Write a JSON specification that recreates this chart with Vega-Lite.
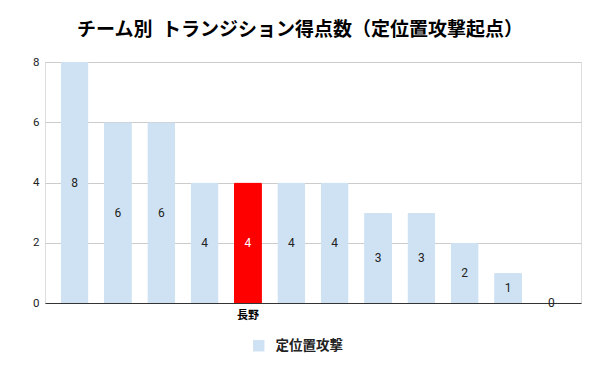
{
  "$schema": "https://vega.github.io/schema/vega-lite/v6.json",
  "autosize": {"type": "none"},
  "width": 536,
  "height": 241,
  "padding": {"left": 45, "top": 62, "right": 19, "bottom": 68},
  "background": "white",
  "title": {
    "text": "チーム別\u2002トランジション得点数（定位置攻撃起点）",
    "font": "Noto Sans CJK JP",
    "fontSize": 19,
    "fontWeight": "bold",
    "color": "#000000",
    "anchor": "middle",
    "dx": -13,
    "offset": 16
  },
  "data": {
    "values": [
      {"team": "チーム1", "score": 8, "series": "定位置攻撃"},
      {"team": "チーム2", "score": 6, "series": "定位置攻撃"},
      {"team": "チーム3", "score": 6, "series": "定位置攻撃"},
      {"team": "チーム4", "score": 4, "series": "定位置攻撃"},
      {"team": "長野", "score": 4, "series": "定位置攻撃"},
      {"team": "チーム6", "score": 4, "series": "定位置攻撃"},
      {"team": "チーム7", "score": 4, "series": "定位置攻撃"},
      {"team": "チーム8", "score": 3, "series": "定位置攻撃"},
      {"team": "チーム9", "score": 3, "series": "定位置攻撃"},
      {"team": "チーム10", "score": 2, "series": "定位置攻撃"},
      {"team": "チーム11", "score": 1, "series": "定位置攻撃"},
      {"team": "チーム12", "score": 0, "series": "定位置攻撃"}
    ]
  },
  "encoding": {
    "x": {
      "field": "team",
      "type": "nominal",
      "sort": null,
      "scale": {"paddingInner": 0.355, "paddingOuter": 0.36},
      "axis": {
        "title": null,
        "labelAngle": 0,
        "labelExpr": "datum.value == '長野' ? '長野' : ''",
        "labelFont": "Noto Sans CJK JP",
        "labelFontWeight": "bold",
        "labelFontSize": 11,
        "labelColor": "#000000",
        "labelPadding": 6,
        "ticks": false,
        "domainColor": "#333333",
        "domainWidth": 1,
        "grid": false
      }
    }
  },
  "layer": [
    {
      "mark": {"type": "bar", "cornerRadiusTopLeft": 1.5, "cornerRadiusTopRight": 1.5},
      "encoding": {
        "y": {
          "field": "score",
          "type": "quantitative",
          "scale": {"domain": [0, 8]},
          "axis": {
            "title": null,
            "values": [0, 2, 4, 6, 8],
            "domain": false,
            "ticks": false,
            "labelFont": "Roboto",
            "labelFontSize": 11.5,
            "labelColor": "#222222",
            "labelPadding": 6,
            "gridColor": "#cccccc"
          }
        },
        "color": {
          "condition": {"test": "datum.team == '長野'", "value": "#ff0000"},
          "field": "series",
          "type": "nominal",
          "scale": {"range": ["#cfe2f3"]},
          "legend": {
            "title": null,
            "orient": "none",
            "legendX": 207,
            "legendY": 277,
            "direction": "horizontal",
            "symbolType": "square",
            "symbolSize": 130,
            "symbolStrokeWidth": 0,
            "labelFont": "Noto Sans CJK JP",
            "labelFontWeight": "bold",
            "labelFontSize": 13.5,
            "labelColor": "#222222",
            "labelOffset": 10
          }
        }
      }
    },
    {
      "mark": {"type": "text", "font": "Roboto", "fontSize": 12, "baseline": "middle"},
      "encoding": {
        "y": {
          "field": "score",
          "type": "quantitative",
          "scale": {"domain": [0, 16]},
          "axis": null
        },
        "text": {"field": "score", "type": "quantitative"},
        "color": {
          "condition": {"test": "datum.team == '長野'", "value": "#ffffff"},
          "value": "#222222"
        }
      }
    }
  ],
  "resolve": {"scale": {"y": "independent"}}
}
